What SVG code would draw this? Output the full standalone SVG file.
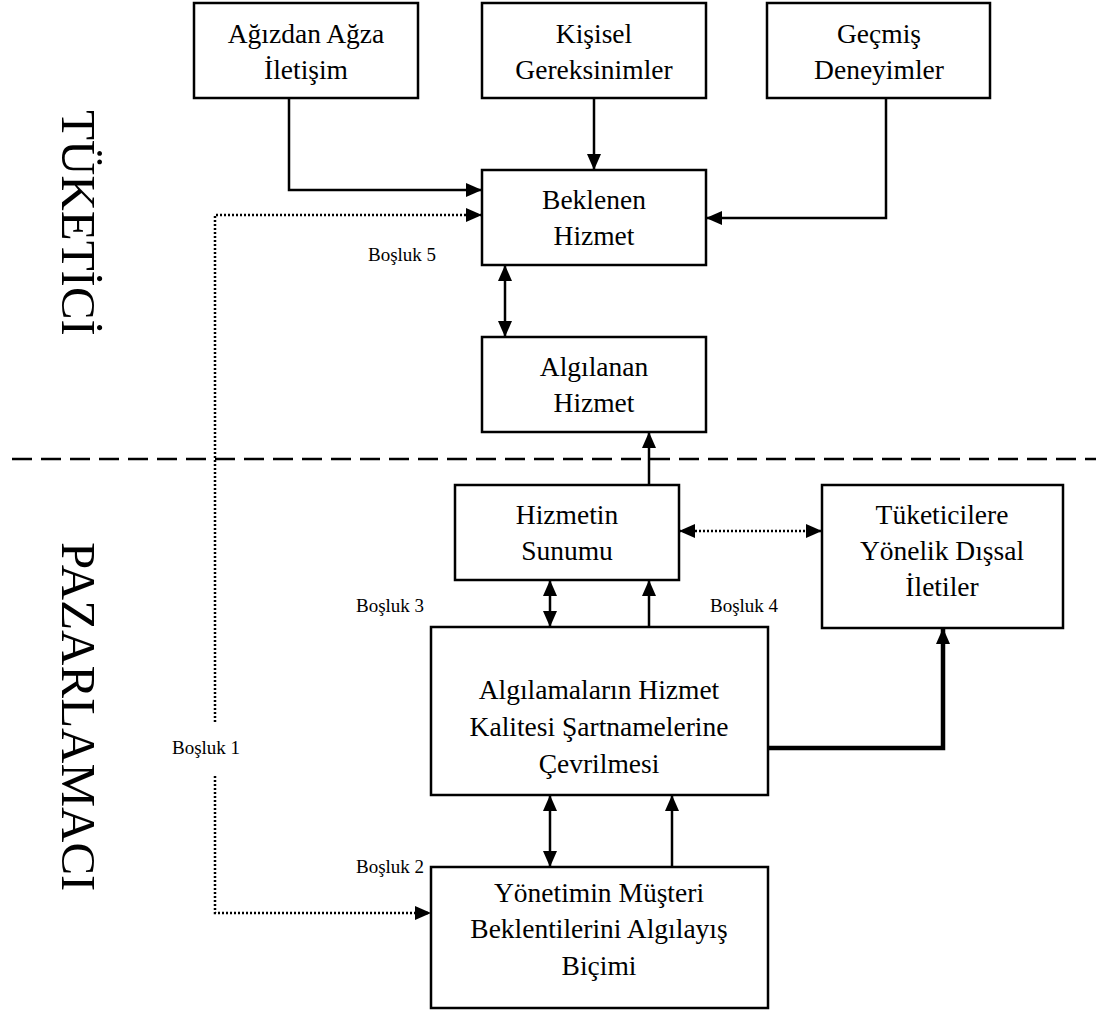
<svg xmlns="http://www.w3.org/2000/svg" width="1096" height="1012" viewBox="0 0 1096 1012">
<defs>
<marker id="ah" markerUnits="userSpaceOnUse" markerWidth="17" markerHeight="15" refX="16" refY="7" orient="auto-start-reverse">
<path d="M0,0 L16,7 L0,14 z" fill="#000"/>
</marker>
</defs>
<style>
.box{fill:#fff;stroke:#000;stroke-width:2.5}
.t{font-family:"Liberation Serif","Times New Roman",serif;font-size:27.5px;text-anchor:middle;fill:#000}
.lbl{font-family:"Liberation Serif","Times New Roman",serif;font-size:19px;fill:#000}
.side{font-family:"Liberation Serif","Times New Roman",serif;font-size:49px;fill:#000}
.c{fill:none;stroke:#000;stroke-width:2.5}
.thick{fill:none;stroke:#000;stroke-width:4.5}
.dot{fill:none;stroke:#000;stroke-width:2.5;stroke-dasharray:2 2}
.dash{fill:none;stroke:#000;stroke-width:2.5;stroke-dasharray:20 9}
</style>
<rect width="1096" height="1012" fill="#fff"/>
<line class="dash" x1="12" y1="459" x2="1096" y2="459"/>
<text class="side" transform="translate(62,110) rotate(90)">TÜKETİCİ</text>
<text class="side" transform="translate(62,542) rotate(90)">PAZARLAMACI</text>
<g id="connectors">
<path class="c" d="M289,98 V190 H482" marker-end="url(#ah)"/>
<path class="c" d="M594,98 V170" marker-end="url(#ah)"/>
<path class="c" d="M886,98 V218 H706" marker-end="url(#ah)"/>
<path class="dot" d="M215,722 V215 H482" marker-end="url(#ah)"/>
<path class="dot" d="M215,776 V913 H431" marker-end="url(#ah)"/>
<path class="c" d="M505,265 V337" marker-start="url(#ah)" marker-end="url(#ah)"/>
<path class="c" d="M649,485 V432" marker-end="url(#ah)"/>
<path class="dot" d="M679,531 H822" marker-start="url(#ah)" marker-end="url(#ah)"/>
<path class="c" d="M550,580 V627" marker-start="url(#ah)" marker-end="url(#ah)"/>
<path class="c" d="M649,627 V580" marker-end="url(#ah)"/>
<path class="thick" d="M768,748 H943 V628" marker-end="url(#ah)"/>
<path class="c" d="M550,795 V867" marker-start="url(#ah)" marker-end="url(#ah)"/>
<path class="c" d="M672,867 V795" marker-end="url(#ah)"/>
<text class="lbl" x="368" y="261">Boşluk 5</text>
<text class="lbl" x="356" y="612">Boşluk 3</text>
<text class="lbl" x="710" y="612">Boşluk 4</text>
<text class="lbl" x="172" y="754">Boşluk 1</text>
<text class="lbl" x="356" y="873">Boşluk 2</text>
</g>
<g id="agizdan"><rect class="box" x="194" y="3" width="224" height="95"/><text class="t" x="306" y="43">Ağızdan Ağza</text><text class="t" x="306" y="79">İletişim</text></g>
<g id="kisisel"><rect class="box" x="482" y="3" width="224" height="95"/><text class="t" x="594" y="43">Kişisel</text><text class="t" x="594" y="79">Gereksinimler</text></g>
<g id="gecmis"><rect class="box" x="767" y="3" width="223" height="95"/><text class="t" x="879" y="43">Geçmiş</text><text class="t" x="879" y="79">Deneyimler</text></g>
<g id="beklenen"><rect class="box" x="482" y="170" width="224" height="95"/><text class="t" x="594" y="209">Beklenen</text><text class="t" x="594" y="245">Hizmet</text></g>
<g id="algilanan"><rect class="box" x="482" y="337" width="224" height="95"/><text class="t" x="594" y="376">Algılanan</text><text class="t" x="594" y="412">Hizmet</text></g>
<g id="sunum"><rect class="box" x="455" y="485" width="224" height="95"/><text class="t" x="567" y="524">Hizmetin</text><text class="t" x="567" y="560">Sunumu</text></g>
<g id="iletiler"><rect class="box" x="822" y="485" width="241" height="143"/><text class="t" x="942" y="524">Tüketicilere</text><text class="t" x="942" y="560">Yönelik Dışsal</text><text class="t" x="942" y="596">İletiler</text></g>
<g id="sartname"><rect class="box" x="431" y="627" width="337" height="168"/><text class="t" x="599" y="699">Algılamaların Hizmet</text><text class="t" x="599" y="736">Kalitesi Şartnamelerine</text><text class="t" x="599" y="773">Çevrilmesi</text></g>
<g id="yonetim"><rect class="box" x="431" y="867" width="337" height="141"/><text class="t" x="599" y="902">Yönetimin Müşteri</text><text class="t" x="599" y="938">Beklentilerini Algılayış</text><text class="t" x="599" y="975">Biçimi</text></g>
</svg>
